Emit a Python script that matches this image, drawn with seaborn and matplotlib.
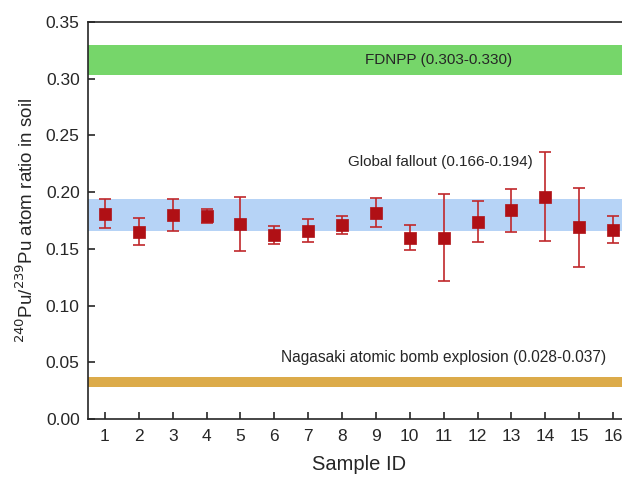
import numpy as np
import pandas as pd
import matplotlib.pyplot as plt
import seaborn as sns

# 240Pu/239Pu ratios per sample
sample_id = list(range(1, 17))
ratio = [0.181, 0.165, 0.180, 0.179, 0.172, 0.162, 0.166, 0.171,
         0.182, 0.160, 0.160, 0.174, 0.184, 0.196, 0.169, 0.167]
ratio_err = [0.013, 0.012, 0.014, 0.006, 0.024, 0.008, 0.010, 0.008,
             0.013, 0.011, 0.038, 0.018, 0.019, 0.039, 0.035, 0.012]

# reference ranges
band_names = ['FDNPP', 'Global fallout', 'Nagasaki atomic bomb explosion']
band_low = [0.303, 0.166, 0.028]
band_high = [0.330, 0.194, 0.037]

df = pd.DataFrame({'Sample ID': sample_id, 'ratio': ratio, 'err': ratio_err})

sns.set_style('ticks')
plt.rcParams['font.family'] = ['Liberation Sans', 'DejaVu Sans']

fig = plt.figure(figsize=(6.22, 4.78), dpi=100)
ax = fig.add_axes([88 / 622, 59 / 478, 542 / 622, 397 / 478])

band_colors = ['#76d66a', '#b6d3f6', '#dcab4a']
for lo, hi, c in zip(band_low, band_high, band_colors):
    ax.axhspan(lo, hi, color=c, lw=0, zorder=0)

ax.text(10.85, 0.3165, 'FDNPP (0.303-0.330)', ha='center', va='center', fontsize=11)
ax.text(10.9, 0.2265, 'Global fallout (0.166-0.194)', ha='center', va='center', fontsize=11)
ax.text(11.0, 0.054, 'Nagasaki atomic bomb explosion (0.028-0.037)',
        ha='center', va='center', fontsize=11.2)

ax.errorbar(df['Sample ID'], df['ratio'], yerr=df['err'], fmt='none',
            ecolor='#c0282b', elinewidth=1.2, capsize=4.5, capthick=1.2, zorder=2)
sns.scatterplot(data=df, x='Sample ID', y='ratio', marker='s', s=70,
                color='#b01015', edgecolor='#b01015', linewidth=0.5, zorder=3, ax=ax)

ax.set_xlim(0.5, 16.5)
ax.set_ylim(0, 0.35)
ax.set_xticks(sample_id)
ax.set_yticks(np.arange(0, 0.351, 0.05))
ax.set_yticklabels([f'{v:.2f}' for v in np.arange(0, 0.351, 0.05)])
ax.tick_params(direction='in', length=5, width=1.2, labelsize=12.5, pad=6)
ax.tick_params(axis='x', pad=7)
for s in ax.spines.values():
    s.set_linewidth(1.2)
ax.set_xlabel('Sample ID', fontsize=14.5, labelpad=8)
ax.set_ylabel('$^{240}$Pu/$^{239}$Pu atom ratio in soil', fontsize=13.5, labelpad=6)

fig.savefig('out.png', dpi=100)
